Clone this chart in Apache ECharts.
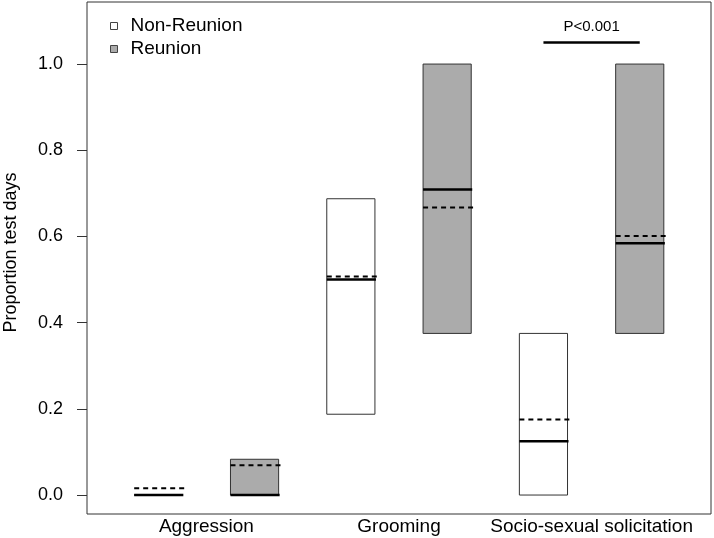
<!DOCTYPE html>
<html>
<head>
<meta charset="utf-8">
<script src="https://cdn.jsdelivr.net/npm/echarts@6/dist/echarts.min.js"></script>
<style>
  html, body { margin: 0; padding: 0; background: #fff; }
  #chart { width: 714px; height: 538px; }
</style>
</head>
<body>
<div id="chart"></div>
<script>
// behaviours along the x axis, two boxes each
var categories = ['Aggression', 'Grooming', 'Socio-sexual solicitation']
var groups = ['Non-Reunion', 'Reunion']

// box positions (1..6), Non-Reunion first then Reunion
var posNon = [1, 3, 5]
var posReu = [2, 4, 6]

// Non-Reunion: lower edge, upper edge, median, mean
var lowNon = [0, 0.1875, 0]
var highNon = [0, 0.6875, 0.375]
var medNon = [0, 0.5, 0.125]
var meanNon = [0.016, 0.507, 0.175]

// Reunion
var lowReu = [0, 0.375, 0.375]
var highReu = [0.083, 1.0, 1.0]
var medReu = [0, 0.709, 0.584]
var meanReu = [0.069, 0.667, 0.601]

var yTicks = [0, 0.2, 0.4, 0.6, 0.8, 1.0]
var sigFrom = 5
var sigTo = 6
var sigY = 1.05
var sigText = 'P<0.001'

function rows (pos, low, high, med, mean) {
  var arr = []
  for (let i = 0; i < pos.length; i++) {
    arr.push([pos[i], low[i], high[i], med[i], mean[i]])
  }
  return arr
}

function renderBox (params, api) {
  let x = api.value(0)
  let w = api.size([0.5, 0])[0]
  let lo = api.coord([x, api.value(1)])
  let hi = api.coord([x, api.value(2)])
  let md = api.coord([x, api.value(3)])
  let mn = api.coord([x, api.value(4)])
  let x0 = lo[0] - w / 2
  let x1 = lo[0] + w / 2
  return {
    type: 'group',
    children: [
      {
        type: 'rect',
        shape: { x: x0, y: hi[1], width: w, height: lo[1] - hi[1] },
        style: { fill: api.visual('color'), stroke: '#333', lineWidth: 1 }
      },
      {
        type: 'line',
        shape: { x1: x0, y1: mn[1], x2: x1 + 2, y2: mn[1] },
        style: { stroke: '#000', lineWidth: 2, lineDash: [5, 4] }
      },
      {
        type: 'line',
        shape: { x1: x0, y1: md[1], x2: x1 + 1, y2: md[1] },
        style: { stroke: '#000', lineWidth: 2.5 }
      }
    ]
  }
}

var chart = echarts.init(document.getElementById('chart'))

var options = {
  animation: false,
  textStyle: { fontFamily: 'Liberation Sans, Arial, sans-serif' },
  grid: {
    left: 87,
    right: 3,
    top: 2,
    bottom: 24,
    outerBoundsMode: 'none',
    show: true,
    borderColor: '#333',
    borderWidth: 1,
    backgroundColor: 'transparent'
  },
  legend: {
    orient: 'vertical',
    left: 105,
    top: 11,
    itemWidth: 7,
    itemHeight: 7,
    itemGap: 3,
    icon: 'rect',
    textStyle: { fontSize: 19, color: '#000', lineHeight: 20, padding: [0, 0, 0, 8] },
    data: [
      { name: groups[0], itemStyle: { color: '#fff', borderColor: '#444', borderWidth: 1 } },
      { name: groups[1], itemStyle: { color: '#ababab', borderColor: '#444', borderWidth: 1 } }
    ]
  },
  xAxis: {
    type: 'value',
    min: 0.26,
    max: 6.74,
    axisLine: { show: false },
    axisTick: { show: false },
    splitLine: { show: false },
    axisLabel: {
      customValues: [1.5, 3.5, 5.5],
      formatter: function (v) {
        return categories[Math.round((v - 1.5) / 2)]
      },
      fontSize: 19,
      color: '#000',
      margin: 3
    }
  },
  yAxis: {
    type: 'value',
    min: -0.044,
    max: 1.144,
    name: 'Proportion test days',
    nameLocation: 'middle',
    nameGap: 67,
    nameTextStyle: { fontSize: 18, color: '#000', padding: [0, 0, 0, 11] },
    axisLine: { show: false },
    splitLine: { show: false },
    axisTick: {
      show: true,
      length: 10,
      customValues: yTicks,
      lineStyle: { color: '#333' }
    },
    axisLabel: {
      customValues: yTicks,
      formatter: function (v) { return v.toFixed(1) },
      fontSize: 18,
      color: '#000',
      margin: 24
    }
  },
  series: [
    {
      name: groups[0],
      type: 'custom',
      renderItem: renderBox,
      itemStyle: { color: '#fff', borderColor: '#444', borderWidth: 1 },
      data: rows(posNon, lowNon, highNon, medNon, meanNon)
    },
    {
      name: groups[1],
      type: 'custom',
      renderItem: renderBox,
      itemStyle: { color: '#ababab', borderColor: '#444', borderWidth: 1 },
      data: rows(posReu, lowReu, highReu, medReu, meanReu)
    },
    {
      type: 'custom',
      silent: true,
      renderItem: function (params, api) {
        let a = api.coord([api.value(0), api.value(2)])
        let b = api.coord([api.value(1), api.value(2)])
        return {
          type: 'group',
          children: [
            {
              type: 'line',
              shape: { x1: a[0], y1: a[1], x2: b[0], y2: b[1] },
              style: { stroke: '#000', lineWidth: 2.5 }
            },
            {
              type: 'text',
              style: {
                x: (a[0] + b[0]) / 2,
                y: a[1] - 8,
                text: sigText,
                fill: '#000',
                font: '15px "Liberation Sans", Arial, sans-serif',
                align: 'center',
                verticalAlign: 'bottom'
              }
            }
          ]
        }
      },
      data: [[sigFrom, sigTo, sigY]]
    }
  ]
}

chart.setOption(options)
window.addEventListener('resize', function () { chart.resize() })
</script>
</body>
</html>
